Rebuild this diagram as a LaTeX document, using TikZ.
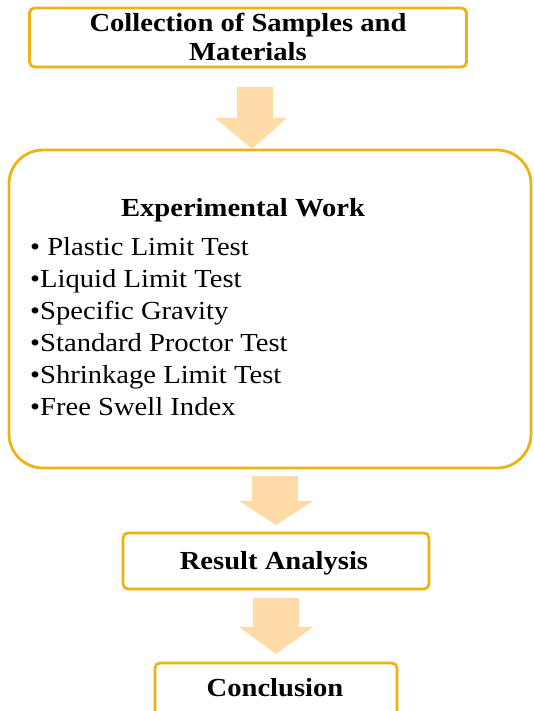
\documentclass[tikz,border=0pt]{standalone}
\usepackage{fontspec}
\setmainfont{Liberation Serif}[FakeStretch=1.1]
\usetikzlibrary{positioning}

\definecolor{boxgold}{HTML}{EDB214}
\definecolor{arrowpeach}{HTML}{FFDBA8}

\tikzset{
    stagebox/.style={draw=boxgold, line width=2.8pt, fill=white, rounded corners=5pt, inner sep=0pt},
    bigbox/.style={stagebox, rounded corners=34pt},
    stagetext/.style={font=\fontsize{26}{29}\selectfont\bfseries, inner sep=0pt, anchor=base},
    itemtext/.style={font=\fontsize{26}{32}\selectfont, inner sep=0pt, anchor=base west},
    blockarrow/.style={fill=arrowpeach, draw=none}
}

\begin{document}
\begin{tikzpicture}[x=1pt, y=-1pt]
        \useasboundingbox (0, 0) rectangle (534, 711);

        % stage boxes
        \node[stagebox, minimum width=437pt, minimum height=59pt] (collect) at (248, 37.5) {};
        \node[stagetext] (collect line1) at (248, 32) {Collection of Samples and};
        \node[stagetext] (collect line2) at (248, 61) {Materials};

        \node[bigbox, minimum width=522pt, minimum height=318pt] (work) at (270, 309) {};
        \node[stagetext] (work title) at (243, 217) {Experimental Work};
        \foreach \item [count=\i] in {{\textbullet\ Plastic Limit Test}, {\textbullet Liquid Limit Test},
            {\textbullet Specific Gravity}, {\textbullet Standard Proctor Test},
            {\textbullet Shrinkage Limit Test}, {\textbullet Free Swell Index}}
            \node[itemtext] (work item\i) at (30, 223 + 32*\i) {\item};

        \node[stagebox, minimum width=306pt, minimum height=56pt] (result) at (276, 561) {};
        \node[stagetext] (result text) at (274, 569) {Result Analysis};

        \node[stagebox, minimum width=242pt, minimum height=70pt] (concl) at (276, 698) {};
        \node[stagetext] (concl text) at (275, 696) {Conclusion};

        % block arrows between the stages
        \coordinate (arrow1 top) at (255, 87);
        \coordinate (arrow1 tip) at (252, 149);
        \fill[blockarrow] (arrow1 top) ++(-18, 0) -- ++(36, 0) -- ++(0, 31) -- ++(14, 0)
            -- (arrow1 tip) -- (215, 118) -- ++(22, 0) -- cycle;

        \coordinate (arrow2 top) at (275, 476);
        \coordinate (arrow2 tip) at (276, 525);
        \fill[blockarrow] (arrow2 top) ++(-23, 0) -- ++(46, 0) -- ++(0, 25) -- ++(15, 0)
            -- (arrow2 tip) -- (239, 501) -- ++(13, 0) -- cycle;

        \coordinate (arrow3 top) at (276, 598);
        \coordinate (arrow3 tip) at (276, 654);
        \fill[blockarrow] (arrow3 top) ++(-23, 0) -- ++(46, 0) -- ++(0, 29) -- ++(14, 0)
            -- (arrow3 tip) -- (239, 627) -- ++(14, 0) -- cycle;
    \end{tikzpicture}
\end{document}
